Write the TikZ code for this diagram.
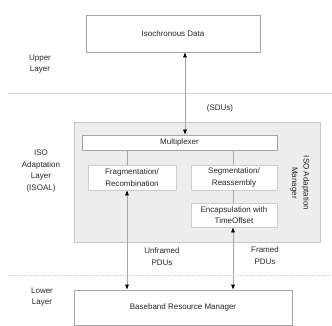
\documentclass[tikz,border=0pt]{standalone}
\usepackage{fontspec}
\setmainfont{Liberation Sans}
\usetikzlibrary{arrows.meta}
\begin{document}
\begin{tikzpicture}[x=1pt,y=-1pt,
  every node/.style={font=\fontsize{8}{11.5}\selectfont, text=black!85},
  box/.style={draw=gray!70, fill=white, line width=0.6pt, inner sep=0pt, align=center},
  lbl/.style={align=center, inner sep=0pt},
  link/.style={draw=gray!70, line width=0.6pt},
  dlink/.style={draw=gray!70, line width=0.6pt, {Latex[black,length=5pt,width=4pt]}-{Latex[black,length=5pt,width=4pt]}},
  sep/.style={draw=gray!35, line width=0.8pt}]
\useasboundingbox (0,0) rectangle (332,326);
% separators
\coordinate (sl1) at (8,93);
\coordinate (sr1) at (332,93);
\coordinate (sl2) at (8,275);
\coordinate (sr2) at (332,275);
\draw[sep] (sl1) -- (sr1);
\draw[sep, densely dotted] (sl2) -- (sr2);
% boxes
\node[box, minimum width=174pt, minimum height=37pt] (iso) at (173,33.5) {Isochronous Data};
\node[box, fill=gray!14, draw=gray!45, minimum width=246pt, minimum height=120pt] (isoal) at (197,182) {};
\node[box, minimum width=195pt, minimum height=15pt] (mux) at (179.5,142.5) {Multiplexer};
\node[box, draw=gray!40, minimum width=88pt, minimum height=25pt] (frag) at (132,177.5) {Fragmentation/\\Recombination};
\node[box, draw=gray!40, minimum width=86pt, minimum height=25pt] (seg) at (234,177.5) {Segmentation/\\Reassembly};
\node[box, draw=gray!40, minimum width=86pt, minimum height=24pt] (enc) at (234,215) {Encapsulation with\\TimeOffset};
\node[box, minimum width=218pt, minimum height=35pt] (brm) at (183,307.5) {Baseband Resource Manager};
\node[lbl, rotate=-90] (mgr) at (300,183) {ISO Adaptation\\Manager};
% labels
\node[lbl] (ul) at (40,64) {Upper\\Layer};
\node[lbl] (al) at (41,171) {ISO\\Adaptation\\Layer\\(ISOAL)};
\node[lbl] (ll) at (42,297) {Lower\\Layer};
\node[lbl] (sdu) at (220,108) {(SDUs)};
\node[lbl] (upd) at (162,256.5) {Unframed\\PDUs};
\node[lbl] (fpd) at (265,255.5) {Framed\\PDUs};
% connectors
\coordinate (xl) at (127,0);
\coordinate (xr) at (233,0);
\coordinate (xm) at (185,0);
\draw[link] (mux.south -| xl) -- (frag.north -| xl);
\draw[link] (mux.south -| xr) -- (seg.north -| xr);
\draw[link] (seg.south -| xr) -- (enc.north -| xr);
\draw[dlink] (iso.south -| xm) -- (mux.north -| xm);
\draw[dlink] (frag.south -| xl) -- (brm.north -| xl);
\draw[dlink] (enc.south -| xr) -- (brm.north -| xr);
\end{tikzpicture}
\end{document}
